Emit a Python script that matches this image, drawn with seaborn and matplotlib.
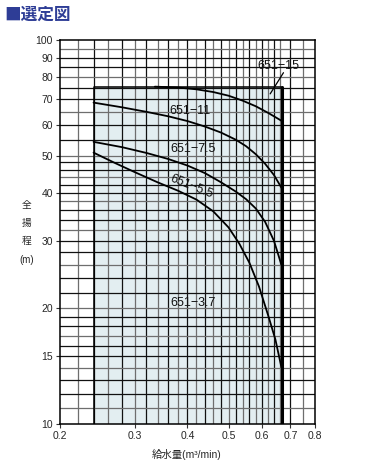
import numpy as np
import pandas as pd
import seaborn as sns
import matplotlib.pyplot as plt
from matplotlib.patches import Rectangle

# performance limit curves (flow m3/min, total head m)
c15_x = [0.335, 0.38, 0.42, 0.46, 0.50, 0.54, 0.58, 0.62, 0.667]
c15_y = [75.6, 75.2, 74.4, 73.2, 71.6, 69.5, 67.2, 64.6, 61.6]
c11_x = [0.24, 0.28, 0.32, 0.36, 0.40, 0.44, 0.48, 0.52, 0.55, 0.58, 0.61, 0.64, 0.667]
c11_y = [68.7, 66.8, 65.0, 63.3, 61.5, 59.5, 57.4, 55.0, 52.9, 50.4, 47.6, 44.5, 41.2]
c75_x = [0.24, 0.28, 0.32, 0.36, 0.40, 0.44, 0.48, 0.52, 0.55, 0.58, 0.61, 0.64, 0.667]
c75_y = [54.3, 52.6, 50.8, 49.0, 47.1, 45.0, 42.6, 40.3, 38.5, 36.4, 33.6, 30.0, 25.9]
c55_x = [0.24, 0.27, 0.30, 0.34, 0.38, 0.42, 0.46, 0.50, 0.53, 0.56, 0.59, 0.62, 0.645, 0.667]
c55_y = [50.9, 47.8, 45.3, 42.6, 40.5, 38.4, 35.8, 32.5, 29.5, 26.3, 22.8, 19.2, 16.6, 14.0]

# selection area
area_x = [0.24, 0.667]
area_y = [10, 75.6]

models = ["651−15", "651−11", "651−7.5", "651−5.5", "651−3.7"]
label_x = [0.655, 0.406, 0.413, 0.409, 0.413]
label_y = [85.6, 65.4, 52.1, 41.4, 20.6]
label_rot = [0, 0, 0, -22, 0]

xticks = [0.2, 0.3, 0.4, 0.5, 0.6, 0.7, 0.8]
yticks = [10, 15, 20, 30, 40, 50, 60, 70, 80, 90, 100]
xgrid = [round(v, 2) for v in np.arange(0.22, 0.661, 0.02)] + [0.7, 0.75]
ygrid = list(range(11, 20)) + list(range(20, 50, 2)) + list(range(50, 100, 5))

sns.set_style("white")
plt.rcParams['font.family'] = ['Liberation Sans', 'Noto Sans CJK JP', 'DejaVu Sans']

fig = plt.figure(figsize=(3.72, 4.65), dpi=100)
ax = fig.add_axes([60 / 372, 41 / 465, 255 / 372, 384 / 465])
ax.set_xscale('log')
ax.set_yscale('log')
ax.set_xlim(0.2, 0.8)
ax.set_ylim(10, 100)

ax.add_patch(Rectangle((area_x[0], area_y[0]), area_x[1] - area_x[0], area_y[1] - area_y[0],
                       facecolor='#e3eef1', edgecolor='none', zorder=0))

for i, gx in enumerate(xgrid):
    col = '#111111' if i % 2 else '#6e6e6e'
    ax.axvline(gx, color=col, lw=0.9, zorder=1)
for i, gy in enumerate(ygrid):
    col = '#111111' if i % 3 else '#6e6e6e'
    ax.axhline(gy, color=col, lw=0.9, zorder=1)

# area outline
ax.plot([area_x[0], area_x[0], area_x[1]], [area_y[0], area_y[1], area_y[1]],
        color='black', lw=1.1, zorder=2)
ax.plot([area_x[1], area_x[1]], [area_y[0], area_y[1]], color='black', lw=2.2, zorder=2)

curves = pd.concat([
    pd.DataFrame({'q': c15_x, 'h': c15_y, 'm': '15'}),
    pd.DataFrame({'q': c11_x, 'h': c11_y, 'm': '11'}),
    pd.DataFrame({'q': c75_x, 'h': c75_y, 'm': '7.5'}),
    pd.DataFrame({'q': c55_x, 'h': c55_y, 'm': '5.5'}),
])
sns.lineplot(data=curves, x='q', y='h', units='m', estimator=None, sort=False,
             color='black', lw=1.3, ax=ax, zorder=3, legend=False)

for name, lx, ly, rot in zip(models, label_x, label_y, label_rot):
    ax.text(lx, ly, name, fontsize=9, ha='center', va='center', rotation=rot,
            zorder=4, color='#111111')
# leader line for 651-15
ax.plot([0.674, 0.627], [82.2, 72.4], color='black', lw=0.9, zorder=4)

for s in ax.spines.values():
    s.set_color('black')
    s.set_linewidth(1.1)

ax.set_xticks(xticks)
ax.set_xticklabels([str(v) for v in xticks])
ax.set_xticks([], minor=True)
ax.set_yticks(yticks)
ax.set_yticklabels([str(v) for v in yticks])
ax.set_yticks([], minor=True)
ax.tick_params(axis='both', direction='out', length=3, width=0.8, color='#333333',
               labelsize=7.5, pad=2, bottom=True, left=True)
ax.set_xlabel('')
ax.set_ylabel('')

fig.text(187 / 372, 1 - 454 / 465, '給水量(m³/min)', fontsize=7.5, ha='center', va='center')
for txt, py in zip(['全', '揚', '程', '(m)'], [205, 223, 241, 260]):
    fig.text(27 / 372, 1 - py / 465, txt, fontsize=7, ha='center', va='center')

fig.text(4 / 372, 1 - 15 / 465, '■選定図', fontsize=12, fontweight='bold',
         color='#2e3d96', ha='left', va='center',
         family=['Noto Sans CJK JP', 'DejaVu Sans'])

fig.savefig('out.png', dpi=100)
